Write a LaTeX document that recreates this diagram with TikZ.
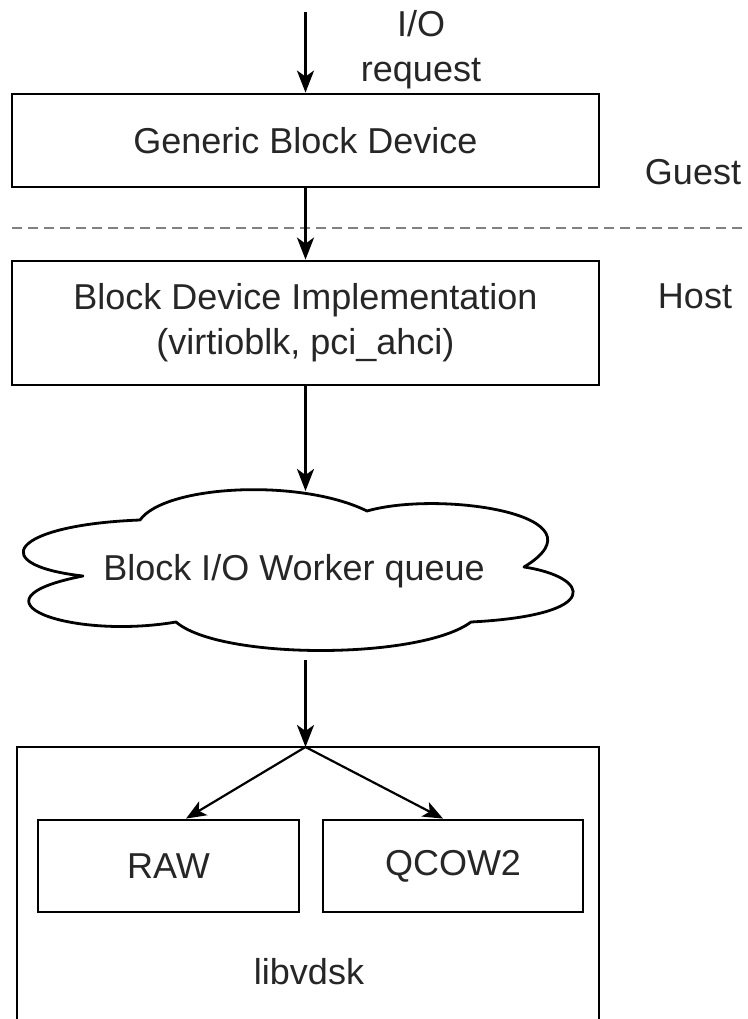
\documentclass[tikz,border=0pt]{standalone}
\usepackage{fontspec}
\setmainfont{Liberation Sans}
\usetikzlibrary{arrows.meta}
\begin{document}
\begin{tikzpicture}[x=1pt,y=-1pt,
  box/.style={draw, line width=2.8pt, rectangle, inner sep=0pt, font=\fontsize{36}{45}\selectfont, align=center, text=black!85},
  lbl/.style={font=\fontsize{36}{45}\selectfont, align=center, inner sep=0pt, text=black!85},
  arr/.style={line width=2.8pt, -{Stealth[length=22pt,width=17pt,inset=6pt]}},
  arrs/.style={line width=2.2pt, -{Stealth[length=20pt,width=16pt,inset=5pt]}},
  cloudline/.style={draw, line width=2.8pt, line join=round}
]
\useasboundingbox (0,0) rectangle (747,1019);
\clip (0,0) rectangle (747,1019);

% texts
\node[lbl] (io) at (421,50) {I/O\\request};
\node[lbl] (guest) at (693,172) {Guest};
\node[lbl] (host) at (695,296) {Host};

% dashed separator
\coordinate (dl) at (12,228);
\coordinate (dr) at (747,228);
\draw[line width=2.8pt, draw=black!50, dash pattern=on 10pt off 6pt] (dl) -- (dr);

% boxes
\node[box, minimum width=587pt, minimum height=93pt] (gbd) at (305.5,140.5) {Generic Block Device};
\node[box, minimum width=587pt, minimum height=124pt] (bdi) at (305.5,323) {Block Device Implementation\\(virtioblk, pci\_ahci)};

% cloud
\draw[cloudline]
  (140,520) .. controls (165,485) and (300,478) .. (367,511)
  .. controls (440,490) and (610,515) .. (524,567)
  .. controls (590,577) and (605,615) .. (471,622)
  .. controls (420,660) and (220,660) .. (176,622)
  .. controls (70,640) and (-40,600) .. (83,576)
  .. controls (-15,565) and (10,525) .. (140,520) -- cycle;
\node[lbl] (bwq) at (294,571) {Block I/O Worker queue};
\coordinate (ctop) at (305.5,491);
\coordinate (cbot) at (305.5,660);

% libvdsk container
\coordinate (split) at (305.5,747);
\draw[line width=2.8pt] (17,1040) -- (17,747) -- (599,747) -- (599,1040);
\node[lbl] (lib) at (309,972) {libvdsk};
\node[box, minimum width=261pt, minimum height=92pt] (raw) at (168.5,866) {RAW};
\node[box, minimum width=260pt, minimum height=92pt] (qcow) at (453,866) {QCOW2};

% connectors
\coordinate (top) at (305.5,12);
\draw[arr] (top) -- (gbd.north);
\draw[arr] (gbd.south) -- (bdi.north);
\draw[arr] (bdi.south) -- (ctop);
\draw[arr] (cbot) -- (split);
\draw[arrs] (split) -- ([xshift=17.5pt]raw.north);
\draw[arrs] (split) -- ([xshift=-10pt]qcow.north);
\end{tikzpicture}
\end{document}
